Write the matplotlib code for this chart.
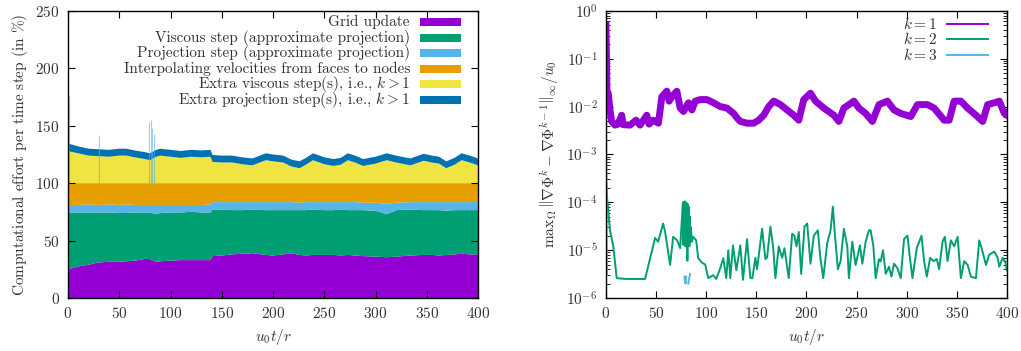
import numpy as np
import matplotlib
matplotlib.use("Agg")
import matplotlib.pyplot as plt
from matplotlib.patches import Rectangle
from matplotlib.lines import Line2D

plt.rcParams['font.family'] = 'serif'
plt.rcParams['font.serif'] = ['cmr10']
plt.rcParams['mathtext.fontset'] = 'cm'
plt.rcParams['axes.formatter.use_mathtext'] = True
plt.rcParams['font.size'] = 11

# ---- left panel: stacked effort per time step (in %) ----
t = [0, 2, 10, 20, 30, 40, 50, 57, 65, 75, 80, 86, 90, 100, 110, 120, 130, 139,
     141, 150, 160, 170, 180, 193, 200, 210, 218, 226, 232, 239, 250, 259, 266,
     273, 280, 288, 300, 311, 320, 334, 347, 355, 362, 369, 377, 384, 392, 400]
grid_update = [24.6, 25.5, 27.5, 29, 31, 31.5, 31.5, 32, 32.5, 34, 34, 31.5, 32, 32.5,
               33, 33, 33, 33, 36.5, 37, 38, 38.5, 39, 37.5, 37, 38, 39, 37.5, 37,
               37.5, 37.5, 37.5, 37, 37.5, 37, 36.5, 36, 35.5, 36, 37, 37.5, 37.5,
               37, 37.5, 38, 38.5, 38, 38]
viscous = [49.4, 49, 47, 45.5, 43.5, 43, 42.5, 42, 42, 40.5, 40, 42, 42, 42, 41.5, 42,
           41.5, 41.5, 40.5, 40, 38.5, 38, 38, 39, 39.5, 38.5, 37.5, 39, 39.5, 39.5,
           39, 39, 40, 39, 39.5, 40, 40, 37.5, 40.5, 40, 39, 39, 39.5, 38.5, 38.5,
           38, 38.5, 38.5]
projection = [7, 6.5, 6.5, 7, 6.5, 7, 7, 7.5, 6.5, 6.5, 7, 7.5, 7, 6.5, 6.5, 6, 6.5, 7,
              6.5, 6.5, 7, 7, 6.5, 7, 7, 7, 7, 6.5, 7, 6.5, 7, 7, 6.5, 7, 7, 6.5, 7,
              9, 6.5, 6.5, 7, 7, 7, 7.5, 7, 7, 7, 7]
interpolating = [19, 19, 19, 18.5, 19, 18.5, 19, 18.5, 19, 19, 19, 19, 19, 19, 19, 19,
                 19, 18.5, 16.5, 16.5, 16.5, 16.5, 16.5, 16.5, 16.5, 16.5, 16.5, 17,
                 16.5, 16.5, 16.5, 16.5, 16.5, 16.5, 16.5, 17, 17, 18, 17, 16.5, 16.5,
                 16.5, 16.5, 16.5, 16.5, 16.5, 16.5, 16.5]
extra_viscous = [29, 27.5, 26, 24, 23.5, 23, 24, 24, 22.5, 21, 20, 23, 24, 23, 22, 23,
                 22.5, 23, 18.5, 18, 18, 16.5, 15.5, 20, 19, 18, 14.5, 13, 16, 20,
                 16.5, 15, 16, 20, 18, 15, 17, 20, 18, 15.5, 19.5, 18, 17, 13, 16, 20,
                 18, 15.5]
extra_projection = [7, 6.5, 6, 6, 6, 6, 6, 6, 6, 6, 6, 6, 6, 6, 6, 6, 6, 6, 6, 6, 6,
                    6, 6, 6, 6, 6, 6, 6, 6, 6, 6, 6, 6, 6, 6, 6, 6, 6, 6, 6, 6, 6, 6,
                    6, 6, 6, 6, 6]
spike_t = [0.8, 30, 79, 80.5, 82, 83.5]
spike_top = [176, 142, 153, 155, 148, 143]

labels = ['Grid update', 'Viscous step (approximate projection)',
          'Projection step (approximate projection)',
          'Interpolating velocities from faces to nodes',
          r'Extra viscous step(s), i.e., $k>1$',
          r'Extra projection step(s), i.e., $k>1$']
colors = ['#9400D3', '#009E73', '#56B4E9', '#E69F00', '#F0E442', '#0072B2']

# ---- right panel: max difference between projection iterates ----
t_k1 = [0, 1, 2.3, 4, 5.7, 9, 12, 15.7, 17, 24, 30, 34, 40.7, 43, 47, 52.3, 55.7,
        60.7, 63, 65.7, 70.7, 74, 77.3, 82.3, 85.7, 89, 94, 100.7, 107.3, 114, 120.7,
        127.3, 130.7, 134, 140.7, 147.3, 152.3, 157.3, 162.3, 167.3, 174, 180.7,
        187.3, 192.3, 197.3, 204, 209, 217.3, 227.3, 232.3, 237.3, 247.3, 252.3, 259,
        265.7, 272.3, 280.7, 287.3, 294, 304, 310.7, 320.7, 327.3, 337.3, 342.3,
        347.3, 354, 360.7, 369, 375.7, 380.7, 387.3, 392.3, 397.3, 400]
err_k1 = [0.5, 1.9e-2, 1.9e-2, 8.5e-3, 4.9e-3, 4.1e-3, 4.3e-3, 6.6e-3, 4.2e-3, 4.1e-3,
          5.2e-3, 4.1e-3, 6.6e-3, 4.3e-3, 5.2e-3, 4.5e-3, 1.6e-2, 2.1e-2, 1.3e-2,
          1.6e-2, 2.1e-2, 9.3e-3, 7.9e-3, 1.2e-2, 8.5e-3, 1.3e-2, 1.4e-2, 1.4e-2,
          1.2e-2, 1.0e-2, 9.3e-3, 7.2e-3, 5.8e-3, 4.9e-3, 4.5e-3, 4.5e-3, 5.2e-3,
          6.6e-3, 1.0e-2, 1.3e-2, 1.1e-2, 8.5e-3, 6.6e-3, 5.2e-3, 1.4e-2, 1.9e-2,
          1.3e-2, 9.3e-3, 6.6e-3, 4.9e-3, 9.3e-3, 1.3e-2, 9.3e-3, 7.2e-3, 4.9e-3,
          1.1e-2, 1.3e-2, 8.5e-3, 7.2e-3, 6.2e-3, 1.1e-2, 1.1e-2, 9.3e-3, 5.2e-3,
          5.2e-3, 1.3e-2, 1.3e-2, 9.3e-3, 6.6e-3, 4.9e-3, 1.1e-2, 1.2e-2, 1.3e-2,
          7.2e-3, 6.6e-3]
t_k2 = [0, 1.3, 4, 7.3, 10.7, 20, 39, 49, 52, 57, 59, 64, 67, 71, 74,
        76.7, 77.2, 77.7, 78.2, 78.7, 79.2, 79.7, 80.2, 80.7, 81.2, 81.7, 82.2, 82.7,
        83.2, 83.7, 84.2, 84.7, 85.7, 87, 90, 92, 95.7, 99, 102, 107, 110, 114, 117,
        120, 122, 124, 126.7, 130, 134, 136.7, 140.7, 144, 146, 149, 150.7, 155.7,
        159, 160.7, 164, 166.7, 169, 172.3, 175.7, 178, 182.3, 185.7, 188, 190,
        192.3, 194.7, 198, 200.7, 204, 207.3, 211.3, 214, 216.7, 220.7, 224, 226.3,
        228, 231.3, 234, 237.3, 240.7, 242.3, 245.7, 249, 253.3, 255.7, 259, 262.3,
        264, 266.7, 269, 272.3, 274, 276.3, 279, 282.3, 284.7, 287.3, 290.7, 294,
        297.3, 300.7, 303.3, 305.7, 310, 314.7, 317.3, 320, 323.3, 326.7, 330, 332.3,
        335.7, 338, 340.7, 344, 347.3, 350.7, 354, 357.3, 360.7, 364, 369, 372.3,
        374.7, 379, 382.3, 387.3, 390.7, 392.3, 395.7, 398, 400]
err_k2 = [3e-4, 1.1e-4, 2.6e-5, 1.2e-5, 2.6e-6, 2.5e-6, 2.5e-6, 1.8e-5, 1.5e-5,
          3.6e-5, 2.4e-5, 4.9e-6, 1.9e-5, 1.6e-5, 1.1e-5,
          1.0e-4, 1.3e-5, 1.0e-4, 1.5e-5, 1.05e-4, 1.2e-5, 1.0e-4, 1.4e-5, 9.5e-5,
          6e-6, 9e-5, 1.3e-5, 8e-5, 1.2e-5, 5e-5, 1.5e-5, 3e-5, 1.5e-5, 1.9e-5,
          1.6e-5, 6.8e-6, 5.5e-6, 5e-6, 2.6e-6, 3e-6, 2.5e-6, 4.2e-6, 6.8e-6, 2.6e-6,
          1.0e-5, 2.6e-6, 1.26e-5, 3.8e-6, 1.26e-5, 2.4e-6, 1.7e-5, 2.6e-6, 2.6e-6,
          6.9e-6, 4e-6, 2.8e-5, 6.5e-6, 7e-6, 3.1e-5, 1.2e-5, 2.6e-6, 1.2e-5, 6.9e-6,
          1.1e-5, 2.6e-6, 2.2e-5, 2.0e-5, 1.2e-5, 2.4e-5, 3.2e-6, 3.1e-5, 3.6e-5,
          5.2e-6, 2.0e-5, 2.6e-5, 6.5e-6, 2.6e-6, 1.4e-5, 2.6e-5, 8.1e-5, 2.6e-5,
          4e-6, 5.9e-6, 2.8e-5, 1.2e-5, 2.6e-6, 1.5e-5, 4.9e-6, 1.26e-5, 5.2e-6,
          1.5e-5, 2.6e-5, 2.6e-5, 1.2e-5, 2.6e-6, 6.5e-6, 5.8e-6, 1.0e-5, 3.2e-6,
          4.5e-6, 2.8e-6, 5.2e-6, 4.2e-6, 2.6e-6, 1.7e-5, 2.0e-5, 6.5e-6, 2.6e-6,
          1.1e-5, 2.0e-5, 5.9e-6, 2.8e-6, 6.9e-6, 5.9e-6, 6.5e-6, 4e-6, 1.5e-5,
          1.9e-5, 5.9e-6, 1.6e-5, 1.2e-5, 1.9e-5, 2.6e-6, 5.9e-6, 4.9e-6, 2.8e-6,
          2.6e-6, 1.6e-5, 1.1e-5, 4.9e-6, 8.1e-6, 9.3e-6, 6.9e-6, 4.5e-6, 6.9e-6,
          5.9e-6, 3.8e-6]
t_k3 = [0, 0.3, 0.6, 1.0, np.nan, 78.3, 79.3, 80.0, np.nan, 82.0, 83.0, 84.0]
err_k3 = [1e-1, 1e-3, 2e-5, 3e-6, np.nan, 2.8e-6, 2.0e-6, 2.8e-6, np.nan, 2.0e-6,
          2.6e-6, 3.2e-6]
k_labels = [r'$k=1$', r'$k=2$', r'$k=3$']
k_colors = ['#9400D3', '#009E73', '#56B4E9']

fig = plt.figure(figsize=(10.21, 3.51), dpi=100)
ax1 = fig.add_axes([0.0666, 0.151, 0.4016, 0.818])
ax2 = fig.add_axes([0.5935, 0.151, 0.3928, 0.818])

tick_color = '#333333'

ax1.vlines(spike_t, 100, spike_top, colors='#56B4E9', lw=0.8, alpha=0.6)
ax1.stackplot(t, grid_update, viscous, projection, interpolating, extra_viscous,
              extra_projection, colors=colors, lw=0)
ax1.set_xlim(0, 400)
ax1.set_ylim(0, 250)
ax1.set_xticks(np.arange(0, 401, 50))
ax1.set_yticks(np.arange(0, 251, 50))
ax1.set_xlabel(r'$u_0t/r$', color=tick_color)
ax1.set_ylabel(r'Computational effort per time step (in $\%$)', color=tick_color)

# gnuplot-like key: text right-aligned, swatch on the right
for i, (lab, col) in enumerate(zip(labels, colors)):
    yk = 0.9617 - i * 0.0545
    ax1.text(0.834, yk, lab, transform=ax1.transAxes, ha='right', va='center',
             color=tick_color)
    ax1.add_patch(Rectangle((0.858, yk - 0.014), 0.1005, 0.028,
                            transform=ax1.transAxes, color=col, lw=0))

ax2.semilogy(t_k1, err_k1, color=k_colors[0], lw=5.0)
ax2.semilogy(t_k2, err_k2, color=k_colors[1], lw=1.4)
ax2.semilogy(t_k3, err_k3, color=k_colors[2], lw=1.4)
ax2.set_xlim(0, 400)
ax2.set_ylim(1e-6, 1)
ax2.set_xticks(np.arange(0, 401, 50))
ax2.set_xlabel(r'$u_0t/r$', color=tick_color)
ax2.set_ylabel(r'$\mathrm{max}_\Omega\,\left\|\nabla\Phi^k-\nabla\Phi^{k-1}\right\|_\infty/u_0$',
               color=tick_color)

for i, (lab, col) in enumerate(zip(k_labels, k_colors)):
    yk = 0.955 - i * 0.054
    ax2.text(0.825, yk, lab, transform=ax2.transAxes, ha='right', va='center',
             color=tick_color)
    ax2.add_line(Line2D([0.851, 0.953], [yk, yk], transform=ax2.transAxes,
                        color=col, lw=1.4))

for ax in (ax1, ax2):
    ax.tick_params(which='both', direction='in', top=True, right=True,
                   labelcolor=tick_color, pad=6)
    ax.tick_params(which='major', length=5, width=0.8)
    ax.tick_params(which='minor', length=3, width=0.6)
    for s in ax.spines.values():
        s.set_linewidth(1.0)

fig.savefig('out.png', dpi=100)
